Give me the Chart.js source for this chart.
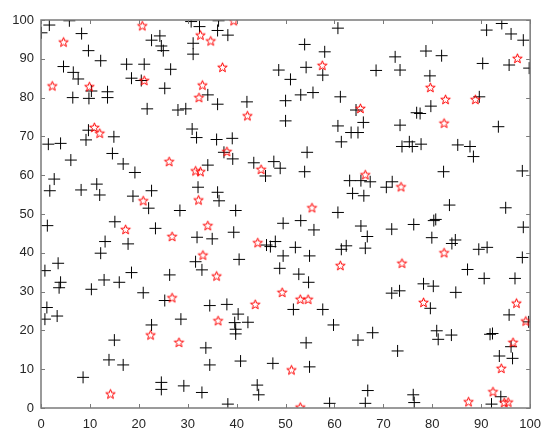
<!DOCTYPE html>
<html>
<head>
<meta charset="utf-8">
<script src="https://cdn.jsdelivr.net/npm/chart.js@4"></script>
<style>
  html, body { margin: 0; padding: 0; background: #fff; }
  #wrap { width: 550px; height: 443px; }
</style>
</head>
<body>
<div id="wrap"><canvas id="scatter"></canvas></div>
<script>
// --- data ---
const crossX = [
  0.1, 1.7, 5.8, 8.3, 22.6, 24.3, 24.6, 25.0, 30.7, 31.1, 31.1, 32.4, 9.7, 12.2, 4.6, 6.6, 7.6, 17.5, 21.1, 18.5,
  20.5, 26.5, 25.3, 10.3, 13.6, 13.6, 6.5, 9.8, 21.7, 28.0, 29.6, 9.7, 14.9, 30.9, 31.8, 1.5, 4.0, 9.2,
  36.3, 36.1, 38.2, 60.7, 53.9, 58.0, 54.2, 57.6, 48.6, 51.0, 34.1, 36.1, 42.1, 50.0, 53.1, 55.6, 61.2, 50.0,
  64.4, 65.9, 60.7, 63.4, 64.8, 61.4, 35.9, 39.1,
  94.2, 91.1, 96.1, 98.6, 72.4, 78.7, 81.9, 68.5, 73.4, 79.5, 90.3, 95.7, 99.8, 89.6, 79.7, 76.8, 77.5, 73.4,
  93.5, 75.3, 73.8, 75.9, 77.7, 85.2, 87.7,
  14.6, 6.1, 16.8, 19.2, 2.7, 1.8, 8.2, 11.4, 12.0, 18.8, 22.6, 22.0, 28.4, 32.1, 1.3, 15.1, 23.4, 13.1, 17.8,
  12.2, 31.9, 3.5, 0.8, 31.6, 32.9, 18.5, 26.3,
  37.4, 39.2, 34.1, 43.5, 47.6, 48.9, 45.9, 54.4, 53.9, 36.1, 36.4, 39.8, 63.1, 65.4, 63.7, 66.0, 60.7, 49.5,
  53.1, 55.8, 65.4, 39.4, 35.0, 46.1, 46.9, 47.9, 52.0, 49.5, 54.9, 61.4, 62.4, 66.3, 66.7, 40.5, 48.8, 52.7,
  88.4, 82.3, 98.4, 67.3, 71.8, 70.6, 83.5, 95.0, 71.7, 76.2, 80.3, 80.7, 98.6, 79.9, 84.0, 84.7, 89.5, 91.2,
  98.4, 87.2,
  4.0, 3.7, 10.3, 12.9, 16.0, 20.9, 1.2, 0.8, 3.3, 25.3, 28.6, 22.6, 15.0, 13.9, 16.8, 8.6, 24.6, 24.6, 29.2, 32.9,
  54.7, 34.5, 38.0, 40.3, 39.6, 42.3, 39.8, 39.8, 51.6, 57.6, 59.8, 64.8, 54.2, 33.7, 34.5, 40.8, 47.4, 54.9,
  44.2, 44.5, 38.2, 59.0, 66.3, 66.8,
  90.6, 96.9, 78.2, 80.2, 71.7, 73.3, 84.8, 79.6, 95.7, 99.7, 67.8, 80.9, 81.2, 83.9, 91.8, 92.3, 96.1, 93.7,
  96.4, 72.9, 76.1, 76.3, 94.0, 92.1
];
const crossY = [
  96.7, 98.7, 99.8, 96.5, 94.8, 95.9, 93.3, 92.1, 99.6, 94.0, 91.2, 98.3, 92.1, 89.5, 88.0, 86.5, 84.8, 88.6, 88.6, 85.0,
  84.4, 87.3, 82.4, 81.7, 81.5, 80.0, 80.0, 79.8, 77.1, 76.8, 77.1, 71.6, 69.9, 71.9, 69.7, 68.0, 68.2, 69.1,
  99.8, 97.3, 96.1, 97.9, 93.7, 91.8, 87.8, 85.8, 87.1, 84.7, 80.7, 78.3, 78.9, 79.2, 80.7, 81.3, 80.2, 74.0,
  76.8, 73.6, 72.7, 71.0, 71.0, 68.6, 69.2, 69.5,
  99.1, 97.4, 96.4, 94.8, 90.5, 92.0, 90.8, 87.0, 87.1, 85.6, 88.8, 88.4, 87.6, 80.2, 77.8, 76.1, 75.9, 72.9,
  72.5, 68.6, 67.4, 67.4, 68.0, 67.8, 67.4,
  65.6, 63.9, 62.9, 60.7, 59.0, 56.0, 56.2, 57.7, 54.9, 54.6, 56.0, 51.5, 50.9, 56.9, 47.0, 48.0, 46.3, 42.9, 42.3,
  39.9, 44.0, 37.3, 35.4, 37.7, 35.6, 34.9, 34.3,
  65.9, 64.2, 62.6, 63.2, 63.5, 61.8, 59.8, 65.9, 60.9, 55.6, 53.4, 50.9, 58.6, 58.6, 55.3, 54.7, 50.4, 47.6,
  48.3, 45.9, 46.9, 45.3, 43.6, 42.0, 41.6, 42.9, 41.4, 39.2, 39.2, 40.9, 41.8, 41.2, 44.2, 38.3, 36.0, 34.5,
  64.8, 60.9, 61.1, 58.3, 58.3, 56.9, 52.3, 51.6, 46.1, 47.3, 48.3, 48.6, 46.6, 43.9, 42.4, 43.3, 40.9, 41.4,
  38.8, 35.7,
  32.4, 31.0, 30.6, 33.0, 32.4, 29.7, 25.9, 22.9, 23.7, 27.7, 22.9, 21.4, 17.5, 12.4, 11.1, 7.9, 6.6, 4.8, 5.7, 4.0,
  32.4, 26.4, 26.7, 24.2, 22.0, 22.1, 20.3, 19.1, 25.4, 25.4, 21.4, 17.5, 16.8, 15.5, 11.1, 12.1, 11.5, 10.6,
  5.9, 3.4, 1.0, 1.2, 1.2, 4.5,
  33.4, 33.4, 32.0, 31.4, 29.6, 30.2, 29.8, 25.7, 24.0, 22.2, 19.4, 19.9, 17.7, 18.8, 19.0, 19.2, 15.8, 13.4,
  12.8, 14.7, 3.4, 1.4, 2.9, 1.0
];
const starX = [
  20.7, 32.6, 4.6, 2.3, 9.9, 21.1, 33.0, 32.3, 10.9, 12.0, 39.4, 34.7, 37.1, 42.2, 57.5, 65.3, 97.4, 79.6, 82.7, 88.8,
  82.4, 26.2, 31.6, 32.6, 20.9, 32.2, 17.3, 26.8, 33.1, 38.0, 45.0, 55.4, 34.1, 44.3, 61.2, 66.3, 35.9, 73.6, 82.4,
  73.8, 26.8, 22.4, 28.2, 14.2, 49.3, 53.0, 54.6, 43.8, 36.2, 51.2, 53.0, 78.2, 97.2, 99.1, 96.5, 94.1, 92.4, 87.4,
  94.7, 95.5
];
const starY = [
  98.5, 96.1, 94.3, 83.0, 82.8, 84.4, 83.2, 80.0, 72.3, 70.8, 99.8, 94.6, 87.8, 75.3, 88.3, 77.2, 90.1, 82.6, 79.5, 79.5,
  73.4, 63.5, 61.1, 60.9, 53.4, 53.6, 46.0, 44.2, 39.4, 66.1, 61.5, 51.6, 47.0, 42.6, 36.7, 60.1, 34.0, 57.0, 40.0,
  37.3, 28.4, 18.8, 16.9, 3.6, 29.8, 28.0, 28.0, 26.7, 22.5, 9.8, 0.2, 27.2, 27.0, 22.4, 16.9, 10.2, 4.2, 1.6,
  1.4, 1.5
];
const tickValues = [0, 10, 20, 30, 40, 50, 60, 70, 80, 90, 100];

const axisColor = '#7a7a7a';
const labelColor = '#262626';

// pentagram outline, like the matlab 'p' marker
function makeStar() {
    const c = document.createElement('canvas');
    c.width = 13; c.height = 13;
    const g = c.getContext('2d');
    const cx = 6.5, cy = 6.8, R = 5, r = 2.1;
    g.beginPath();
    for (let i = 0; i < 10; i++) {
        const a = -Math.PI / 2 + i * Math.PI / 5;
        const rad = i % 2 === 0 ? R : r;
        const px = cx + rad * Math.cos(a), py = cy + rad * Math.sin(a);
        if (i === 0) g.moveTo(px, py); else g.lineTo(px, py);
    }
    g.closePath();
    g.strokeStyle = '#ff0000';
    g.lineWidth = 1;
    g.stroke();
    return c;
}

// box + inward tick marks on all four sides
const boxPlugin = {
    id: 'boxTicks',
    afterDatasetsDraw(chart) {
        const { ctx, chartArea: a, scales } = chart;
        ctx.save();
        ctx.strokeStyle = axisColor;
        ctx.lineWidth = 1;
        ctx.beginPath();
        tickValues.forEach(v => {
            const px = Math.round(scales.x.getPixelForValue(v)) + 0.5;
            ctx.moveTo(px, a.bottom); ctx.lineTo(px, a.bottom - 4);
            ctx.moveTo(px, a.top); ctx.lineTo(px, a.top + 4);
            const py = Math.round(scales.y.getPixelForValue(v)) + 0.5;
            ctx.moveTo(a.left, py); ctx.lineTo(a.left + 4, py);
            ctx.moveTo(a.right, py); ctx.lineTo(a.right - 4, py);
        });
        ctx.stroke();
        ctx.lineWidth = 1.5;
        ctx.strokeRect(a.left, a.top, a.right - a.left, a.bottom - a.top);
        ctx.restore();
    }
};

const crossPoints = crossX.map((x, i) => ({ x: x, y: crossY[i] }));
const starPoints = starX.map((x, i) => ({ x: x, y: starY[i] }));

new Chart(document.getElementById('scatter'), {
    type: 'scatter',
    data: {
        datasets: [
            {
                label: 'stars',
                data: starPoints,
                pointStyle: makeStar(),
                order: 0
            },
            {
                label: 'crosses',
                data: crossPoints,
                pointStyle: 'cross',
                pointRadius: 6,
                borderColor: '#000000',
                backgroundColor: '#000000',
                borderWidth: 1,
                order: 1
            }
        ]
    },
    options: {
        responsive: true,
        maintainAspectRatio: false,
        animation: false,
        layout: { padding: { top: 20, right: 18, left: 0, bottom: 0 } },
        plugins: {
            legend: { display: false },
            tooltip: { enabled: false }
        },
        scales: {
            x: {
                type: 'linear',
                min: 0,
                max: 100,
                grid: { display: false, drawTicks: false },
                border: { display: false },
                ticks: {
                    stepSize: 10,
                    color: labelColor,
                    padding: 9,
                    maxRotation: 0,
                    font: { family: 'Liberation Sans', size: 13 }
                },
                afterFit(scale) { scale.height = 35; }
            },
            y: {
                type: 'linear',
                min: 0,
                max: 100,
                grid: { display: false, drawTicks: false },
                border: { display: false },
                ticks: {
                    stepSize: 10,
                    color: labelColor,
                    padding: 7,
                    font: { family: 'Liberation Sans', size: 13 }
                },
                afterFit(scale) { scale.width = 41; }
            }
        }
    },
    plugins: [boxPlugin]
});
</script>
</body>
</html>
